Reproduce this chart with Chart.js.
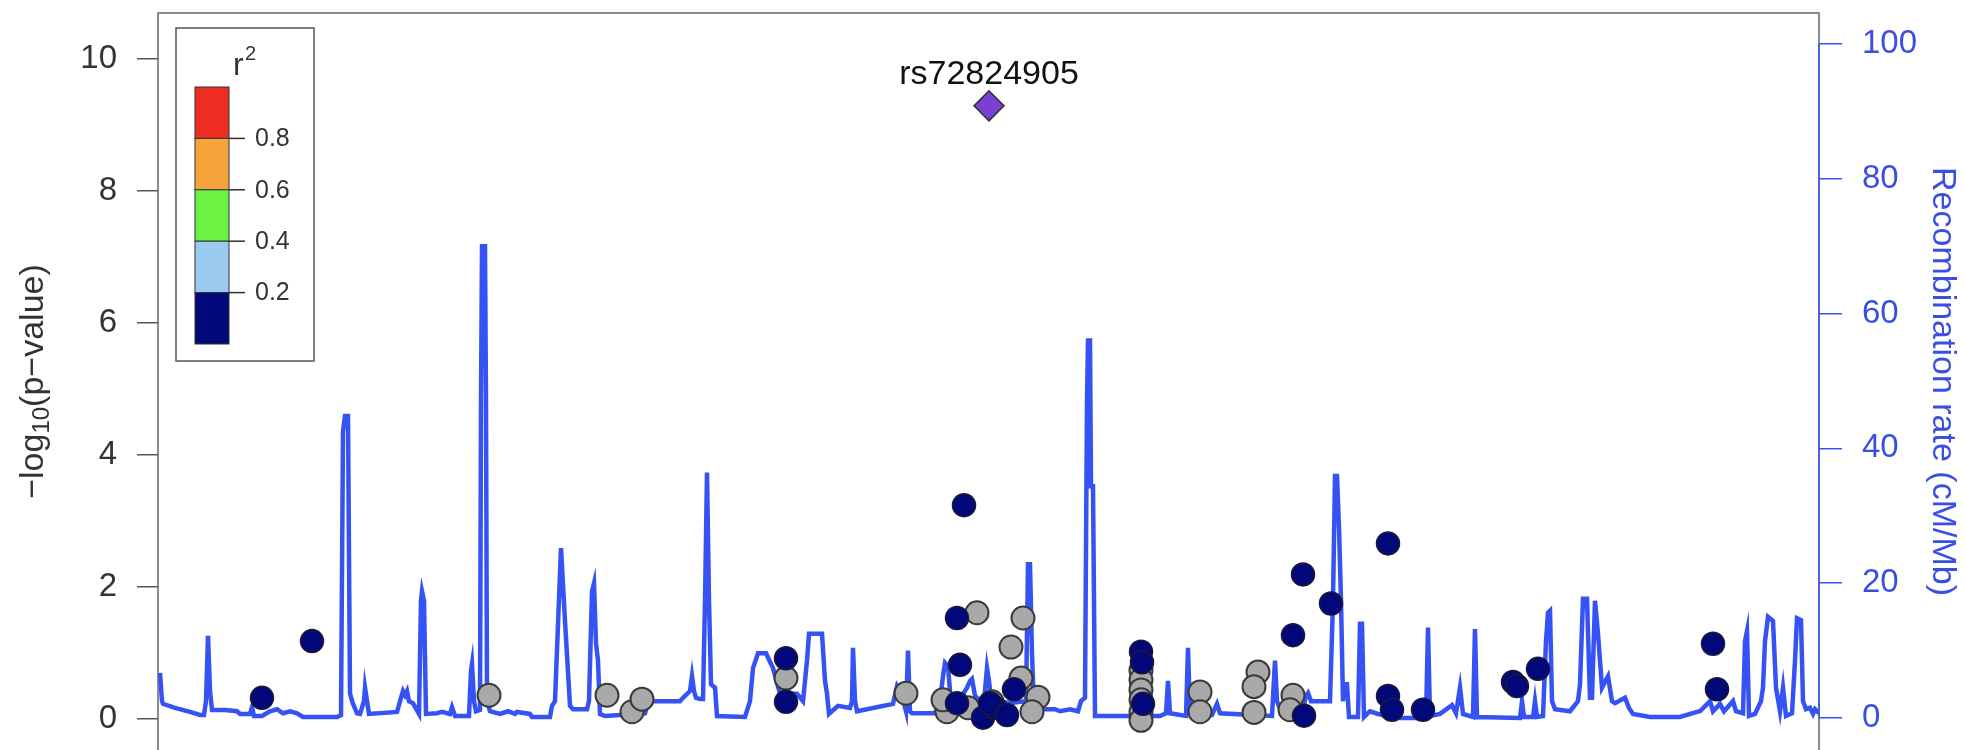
<!DOCTYPE html>
<html>
<head>
<meta charset="utf-8">
<script src="https://cdn.jsdelivr.net/npm/chart.js@4/dist/chart.umd.min.js"></script>
<style>
  html, body { margin: 0; padding: 0; background: #fff; overflow: hidden; }
  canvas { display: block; }
</style>
</head>
<body>
<canvas id="chart" width="1965" height="750"></canvas>
<script>
// position in kb from the left edge of the region, -log10(p) values
const leadSnp = { name: "rs72824905", pos: 207.75, logp: 9.29 };

const navyPos = [26, 38.5, 157, 157, 201.5, 199.75, 200.5, 214, 199.75, 206.25, 209.25, 208, 212.25,
  245.75, 246, 246.25, 286.25, 293.25, 283.75, 286.5, 307.5, 307.5, 308.5, 316.25, 338.75, 339.75, 345,
  388.75, 389.75];
const navyLogp = [0.32, 1.18, 0.92, 0.26, 3.24, 1.53, 0.82, 0.45, 0.24, 0.02, 0.17, 0.24, 0.06,
  1.02, 0.86, 0.23, 2.19, 1.75, 1.27, 0.05, 2.66, 0.35, 0.14, 0.14, 0.56, 0.50, 0.76,
  1.14, 0.45];

const grayPos = [82.75, 112.25, 118.5, 121, 157, 187, 204.75, 216.25, 213.25, 215.75, 220, 218.5,
  197.25, 196.25, 202.5, 208.5, 245.75, 245.75, 245.75, 245.75, 245.75, 245.75, 260.5, 260.5,
  275, 274, 274, 283.75, 283];
const grayLogp = [0.36, 0.36, 0.11, 0.30, 0.62, 0.39, 1.61, 1.53, 1.09, 0.62, 0.33, 0.11,
  0.11, 0.29, 0.17, 0.26, 0.74, 0.59, 0.44, 0.29, 0.11, -0.02, 0.41, 0.11,
  0.71, 0.49, 0.10, 0.36, 0.14];

// recombination rate (cM/Mb)
const recombPos = [0.5, 1, 1.25, 4.25, 8, 10.5, 11.5, 12, 12.5, 13, 13.5, 16.75, 19.75, 20.5, 23, 23.5, 24, 26,
  28, 29.75, 31.25, 33, 34.75, 36.25, 44.75, 45.75, 46.25, 46.75, 47.5, 48, 48.75, 49.75, 50.5, 51.5, 51.75,
  52.25, 52.75, 59.75, 60.75, 61.25, 61.75, 62.25, 62.75, 63.75, 65.25, 65.75, 66, 66.5, 67, 69.75, 71, 73,
  73.5, 74.25, 77.75, 78.25, 78.5, 79, 79.5, 80.5, 80.75, 81, 81.75, 82, 82.25, 83, 85.5, 87.5, 89.25, 89.75,
  93, 93.5, 98, 98.5, 99.25, 100.75, 101.75, 103, 103.75, 107.25, 107.75, 108.5, 109, 109.5, 110, 110.5,
  111.75, 115.5, 121.75, 122.5, 123, 130.5, 131.25, 133, 133.5, 134, 134.5, 135.5, 136.25, 136.75, 137.25,
  137.75, 138.25, 139.25, 139.75, 146.75, 148, 148.75, 150, 152, 153.75, 155.5, 159.75, 161.25, 162.25,
  162.75, 166, 166.75, 167.25, 167.75, 170, 173, 173.5, 173.75, 174.25, 174.75, 183.75, 184.75, 186, 187,
  187.5, 188, 188.5, 194.25, 195.5, 196.25, 196.75, 197.5, 198, 198.75, 200.5, 202.25, 203, 203.5, 204.25,
  205.5, 206.5, 207.25, 207.75, 208.5, 210.5, 213, 217, 217.5, 218, 218.5, 219, 220.5, 224.25, 225.5, 228,
  230, 230.75, 231.75, 232.25, 232.5, 233, 233.25, 233.75, 234.25, 243, 244.25, 245.5, 250.5, 252, 252.5,
  253, 257, 257.5, 258, 263.5, 264.75, 265.5, 278.5, 279.25, 279.75, 280.5, 286.25, 287, 287.5, 288.25,
  293, 293.75, 294.25, 294.75, 295.25, 295.75, 296.25, 296.75, 297.25, 297.75, 300, 300.5, 301, 301.5, 303,
  305, 310.5, 317, 317.5, 318, 320.5, 323.5, 324.5, 325.5, 326.25, 328.75, 329.25, 329.75, 340.5, 341,
  341.5, 343.75, 344.25, 344.75, 346.25, 347, 347.5, 348, 348.5, 349.25, 353, 355, 355.5, 356.25, 357.25,
  358, 358.5, 359.25, 360, 361, 362.5, 363.5, 364.25, 366.75, 367.75, 368.75, 373, 380.5, 384.75, 385.5,
  388, 388.75, 390.5, 391.5, 393.75, 394.5, 396.25, 396.75, 397.25, 397.75, 399.25, 400.75, 401.25, 401.75,
  402.5, 403.75, 404.5, 405.5, 406.25, 407, 408.5, 409.25, 409.75, 410.75, 411.25, 412, 413, 413.75, 414.25,
  415.25];
const recombRate = [6.7, 2.5, 2.1, 1.5, 0.9, 0.45, 0.45, 2.5, 12.2, 4.0, 1.2, 1.2, 1.0, 0.6, 0.6, 1.6, 0.3, 0.3,
  1.0, 1.3, 0.7, 1.0, 0.7, 0.15, 0.15, 0.4, 42.6, 44.8, 44.8, 3.6, 2.1, 0.7, 0.6, 2.5, 4.5,
  2.5, 0.6, 0.9, 3.0, 4.0, 3.4, 4.0, 2.5, 2.2, 0.6, 17.4, 18.8, 17.4, 0.6, 0.7, 0.9, 0.6,
  1.6, 0.3, 0.3, 7.0, 8.0, 2.5, 1.0, 1.2, 47, 70, 70, 47, 2.5, 1.0, 0.6, 1.0, 0.6, 0.9,
  0.6, 0.15, 0.15, 1.8, 2.5, 25.2, 14.4, 1.8, 1.3, 1.3, 2.5, 18.8, 20.0, 11.1, 8.5, 0.6,
  0.3, 0.45, 0.7, 2.2, 2.5, 2.5, 3.0, 4.0, 6.2, 4.0, 3.0, 2.8, 2.8, 17.4, 36.4,
  17.4, 5.0, 4.5, 0.3, 0.15, 2.5, 7.4, 9.6, 9.6, 7.4, 3.6, 3.6, 2.5, 8.5,
  12.5, 12.5, 5.5, 3.6, 0.6, 1.8, 1.5, 2.5, 10.4, 2.5, 1.0, 2.1, 4.7, 3.3, 1.0,
  10.0, 1.0, 0.7, 0.7, 2.5, 6.2, 8.2, 7.7, 4.0, 2.1, 2.8, 4.5, 5.5, 5.8, 3.3,
  2.5, 2.5, 7.4, 5.5, 1.5, 2.5, 2.2, 2.5, 22.8, 22.8, 9.5, 1.5, 1.3, 1.3, 1.0, 1.3,
  1.0, 2.5, 3.0, 47, 56, 56, 34.4, 34.4, 0.3, 0.3, 0.6, 0.3, 0.3, 0.7, 5.5,
  0.7, 0.3, 10.4, 0.7, 0.45, 2.1, 0.7, 0.3, 8.5, 2.5, 1.3, 1.3, 3.3, 3.7, 2.5,
  2.5, 17.4, 35.9, 35.9, 28.2, 17.4, 2.5, 5.0, 5.0, 0.15, 0.15, 14.0, 14.0, 0.15, 1.0,
  0.6, 0, 0, 13.4, 0.3, 0.6, 1.9, 0.7, 4.5, 0.6, 0.15, 13.2, 0.15, 0, 2.5,
  0.15, 0.15, 2.5, 0.15, 0.3, 11.4, 15.6, 15.9, 2.5, 1.3, 1.0, 2.5, 5.0, 17.7, 17.7,
  3.0, 3.0, 17.4, 12.5, 4.5, 6.2, 2.5, 2.2, 3.0, 1.5, 0.6, 0.15, 0.15, 0.9, 1.0,
  2.5, 1.0, 2.1, 1.0, 2.5, 1.0, 0.7, 11.4, 12.9, 0.3, 0.6, 2.5, 4.5, 11.4,
  15.0, 14.4, 4.5, 1.0, 4.5, 0.3, 0.7, 8.5, 14.8, 14.5, 2.5, 1.3, 1.5, 0.6, 1.3,
  0.7];

const logpTicks = [0, 2, 4, 6, 8, 10];
const recombTicks = [0, 20, 40, 60, 80, 100];

const r2Colors = ["#EE2E24", "#F4A43A", "#6CF242", "#9CCBF1", "#02077A"];
const r2Labels = ["0.8", "0.6", "0.4", "0.2"];

const FONT = "'Liberation Sans', Arial, Helvetica, sans-serif";
const BLUE_LINE = "#3553F5";
const BLUE_TEXT = "#3A4FE2";
const GREY_TEXT = "#333333";

const pairs = (xs, ys) => xs.map((x, i) => ({ x: x, y: ys[i] }));

const fixedTicks = (vals) => (scale) => {
  scale.ticks = vals.map(v => ({ value: v }));
};

// keep the axes a fixed width and stop them from padding the plot area
const fixWidth = (w) => (scale) => {
  scale.width = w;
  scale.paddingTop = 0;
  scale.paddingBottom = 0;
};

// frame, legend, labels and axis titles
const decorations = {
  id: "decorations",
  beforeDatasetsDraw(chart) {
    const { ctx, chartArea } = chart;
    const y2 = chart.scales.y2;
    ctx.save();
    ctx.strokeStyle = "#666";
    ctx.lineWidth = 1.5;
    ctx.beginPath();
    ctx.moveTo(chartArea.left, chart.height + 5);
    ctx.lineTo(chartArea.left, chartArea.top);
    ctx.lineTo(chartArea.right, chartArea.top);
    ctx.lineTo(chartArea.right, chart.height + 5);
    ctx.stroke();
    // blue axis line on the right
    ctx.strokeStyle = BLUE_LINE;
    ctx.beginPath();
    ctx.moveTo(chartArea.right, y2.getPixelForValue(0));
    ctx.lineTo(chartArea.right, y2.getPixelForValue(100));
    ctx.stroke();
    ctx.restore();
  },
  afterDraw(chart) {
    const { ctx, chartArea } = chart;
    const xs = chart.scales.x, ys = chart.scales.y;
    ctx.save();

    // lead snp label
    ctx.fillStyle = "#111";
    ctx.font = "34px " + FONT;
    ctx.textAlign = "center";
    ctx.textBaseline = "alphabetic";
    ctx.fillText(leadSnp.name, xs.getPixelForValue(leadSnp.pos), ys.getPixelForValue(leadSnp.logp) - 22);

    // r2 legend
    const bx = 176, by = 28, bw = 138, bh = 333;
    ctx.fillStyle = "#fff";
    ctx.fillRect(bx, by, bw, bh);
    ctx.strokeStyle = "#555";
    ctx.lineWidth = 1.5;
    ctx.strokeRect(bx, by, bw, bh);

    ctx.fillStyle = GREY_TEXT;
    ctx.textAlign = "left";
    ctx.font = "32px " + FONT;
    ctx.fillText("r", 233, 75);
    ctx.font = "20px " + FONT;
    ctx.fillText("2", 245, 60);

    const cx = 195, cw = 34, top = 87, seg = 51.4;
    r2Colors.forEach((c, i) => {
      ctx.fillStyle = c;
      ctx.fillRect(cx, top + i * seg, cw, seg);
      ctx.strokeStyle = "#333";
      ctx.lineWidth = 1;
      ctx.strokeRect(cx, top + i * seg, cw, seg);
    });
    ctx.font = "25px " + FONT;
    ctx.textBaseline = "middle";
    ctx.fillStyle = GREY_TEXT;
    r2Labels.forEach((lab, i) => {
      const yy = top + (i + 1) * seg;
      ctx.strokeStyle = "#333";
      ctx.lineWidth = 1.5;
      ctx.beginPath();
      ctx.moveTo(cx + cw, yy);
      ctx.lineTo(cx + cw + 16, yy);
      ctx.stroke();
      ctx.fillText(lab, 255, yy + 1);
    });

    // left axis title with subscript
    const midY = (chartArea.top + chartArea.bottom) / 2;
    ctx.translate(34, midY);
    ctx.rotate(-Math.PI / 2);
    const big = "34px " + FONT, small = "24px " + FONT;
    ctx.font = big;
    const w1 = ctx.measureText("\u2212log").width;
    const w3 = ctx.measureText("(p\u2212value)").width;
    ctx.font = small;
    const w2 = ctx.measureText("10").width;
    let u = -(w1 + w2 + w3) / 2;
    ctx.fillStyle = GREY_TEXT;
    ctx.textAlign = "left";
    ctx.textBaseline = "middle";
    ctx.font = big;
    ctx.fillText("\u2212log", u, 0);
    u += w1;
    ctx.font = small;
    ctx.fillText("10", u, 8);
    u += w2;
    ctx.font = big;
    ctx.fillText("(p\u2212value)", u, 0);
    ctx.setTransform(1, 0, 0, 1, 0, 0);

    // right axis title
    ctx.translate(1942, midY);
    ctx.rotate(Math.PI / 2);
    ctx.fillStyle = BLUE_TEXT;
    ctx.textAlign = "center";
    ctx.font = big;
    ctx.fillText("Recombination rate (cM/Mb)", 0, 0);
    ctx.restore();
  }
};

new Chart(document.getElementById("chart").getContext("2d"), {
  type: "scatter",
  data: {
    datasets: [
      {
        label: "Lead SNP",
        data: [{ x: leadSnp.pos, y: leadSnp.logp }],
        pointStyle: "rectRot",
        pointRadius: 15,
        backgroundColor: "#7B3FD6",
        borderColor: "#333",
        borderWidth: 1.5,
        yAxisID: "y",
        order: 0
      },
      {
        label: "r2 < 0.2",
        data: pairs(navyPos, navyLogp),
        pointRadius: 11.5,
        backgroundColor: "#02077A",
        borderColor: "#1b1b33",
        borderWidth: 1.5,
        yAxisID: "y",
        clip: false,
        order: 1
      },
      {
        label: "no LD",
        data: pairs(grayPos, grayLogp),
        pointRadius: 11.5,
        backgroundColor: "#A9A9A9",
        borderColor: "#3a3a3a",
        borderWidth: 2,
        yAxisID: "y",
        clip: false,
        order: 2
      },
      {
        type: "line",
        label: "Recombination rate",
        data: pairs(recombPos, recombRate),
        borderColor: BLUE_LINE,
        borderWidth: 4.5,
        pointRadius: 0,
        tension: 0,
        fill: false,
        yAxisID: "y2",
        order: 3
      }
    ]
  },
  options: {
    responsive: false,
    animation: false,
    layout: { autoPadding: false, padding: { top: 13, bottom: 0, left: 0, right: 0 } },
    plugins: { legend: { display: false }, tooltip: { enabled: false } },
    scales: {
      x: { type: "linear", min: 0, max: 415.25, display: false },
      y: {
        position: "left",
        min: -0.47,
        max: 10.697,
        afterBuildTicks: fixedTicks(logpTicks),
        afterFit: fixWidth(158),
        grid: { drawOnChartArea: false, tickLength: 21, color: "#555", lineWidth: 1.5 },
        border: { display: false },
        ticks: { color: GREY_TEXT, padding: 20, font: { family: FONT, size: 33 } }
      },
      y2: {
        position: "right",
        min: -4.75,
        max: 104.6,
        afterBuildTicks: fixedTicks(recombTicks),
        afterFit: fixWidth(146),
        grid: { drawOnChartArea: false, tickLength: 23, color: BLUE_LINE, lineWidth: 1.5 },
        border: { display: false },
        ticks: { color: BLUE_TEXT, padding: 20, font: { family: FONT, size: 33 } }
      }
    }
  },
  plugins: [decorations]
});
</script>
</body>
</html>
